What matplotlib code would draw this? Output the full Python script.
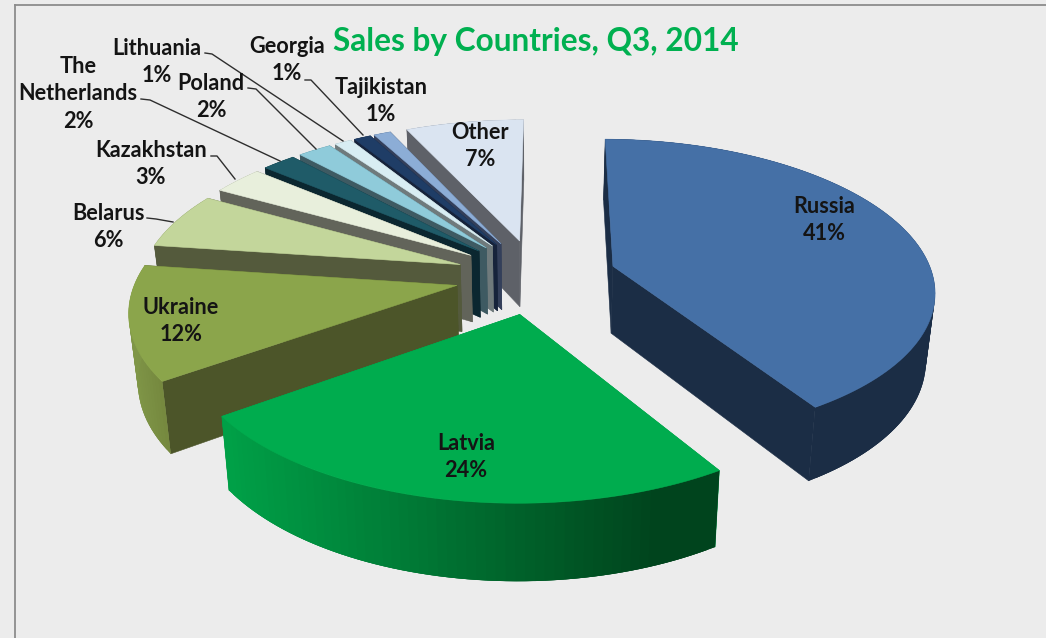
import numpy as np
import matplotlib
matplotlib.use("Agg")
import matplotlib.pyplot as plt
from matplotlib.colors import to_rgb

# ---- data ----
countries = ["Russia", "Latvia", "Ukraine", "Belarus", "Kazakhstan", "The\nNetherlands",
             "Poland", "Lithuania", "Georgia", "Tajikistan", "Other"]
shares = [41, 24, 12, 6, 3, 2, 2, 1, 1, 1, 7]
title = "Sales by Countries, Q3, 2014"

# ---- style ----
top_colors = ["#4570A6", "#00AC4E", "#8BA54B", "#C3D69B", "#E8EFDC", "#1F5B68",
              "#8FCBDA", "#D8EDF3", "#1F3D66", "#8CADD6", "#DAE4F1"]
wall_colors = ["#1B2D45", "#00A047", "#4C5529", "#545A3C", "#62645A", "#0B2730",
               "#3E5A62", "#6F7A7C", "#16233B", "#333F5A", "#5E6168"]
outer_start = ["#1B2D45", "#00A047", "#7F9647", "#545A3C", "#62645A", "#0B2730",
               "#3E5A62", "#6F7A7C", "#16233B", "#333F5A", "#5E6168"]
outer_end = ["#1B2D45", "#00441D", "#76893F", "#545A3C", "#62645A", "#0B2730",
             "#3E5A62", "#6F7A7C", "#16233B", "#333F5A", "#5E6168"]
draw_order = [10, 9, 8, 7, 6, 5, 4, 3, 2, 0, 1]

label_pos = {
    "Russia": (824, 220), "Latvia": (466, 457), "Ukraine": (181, 321), "Belarus": (108, 227),
    "Kazakhstan": (151, 164), "The\nNetherlands": (78, 94), "Poland": (211, 97),
    "Lithuania": (157, 62), "Georgia": (287, 60), "Tajikistan": (381, 101), "Other": (480, 146),
}
leaders = [
    [(205, 53), (212, 54), (343, 141)],
    [(141, 99), (150, 100), (280, 161)],
    [(248, 88), (256, 89), (316, 149)],
    [(305, 80), (311, 80), (363, 135)],
    [(211, 156), (217, 156), (235, 179)],
    [(147, 218), (156, 219), (173, 222)],
]

# perspective model of the tilted pie
X0, Y0 = 533.0, 267.0
K, Q = 0.00046, 0.46
R, EXPLODE = 317.0, 80.0
CU, CV = 3.0, -20.0
H, M = 67.0, 0.977
START = np.deg2rad(0.5)

BG = "#ECECEC"
fig = plt.figure(figsize=(10.46, 6.38), dpi=100, facecolor=BG)
ax = fig.add_axes([0, 0, 1, 1])
ax.set_xlim(0, 1046)
ax.set_ylim(638, 0)
ax.axis("off")


def project(u, v, bottom=False):
    p = 1.0 / (1.0 + K * v)
    x = X0 + u * p
    y = Y0 - Q * v * p
    if bottom:
        x = X0 + u * p * M
        y = y + H * (1 + 0.7 * (p - 1))
    return x, y


def poly(xs, ys, color, z=2, lw=0.4):
    ax.fill(xs, ys, facecolor=color, edgecolor=color, lw=lw, zorder=z)


def mix(a, b, t):
    a, b = np.array(to_rgb(a)), np.array(to_rgb(b))
    return tuple(a + (b - a) * t)


total = sum(shares)
edges = START + np.concatenate([[0], np.cumsum(shares)]) / total * 2 * np.pi

for i in draw_order:
    a0, a1 = edges[i], edges[i + 1]
    mid = (a0 + a1) / 2
    ou = CU + EXPLODE * np.sin(mid)
    ov = CV + EXPLODE * np.cos(mid)
    ang = np.linspace(a0, a1, max(int((a1 - a0) * 40), 4))
    us = ou + R * np.sin(ang)
    vs = ov + R * np.cos(ang)
    xt, yt = project(us, vs)
    xb, yb = project(us, vs, True)
    ax_, ay_ = project(ou, ov)
    bx_, by_ = project(ou, ov, True)
    # radial walls
    poly([ax_, xt[-1], xb[-1], bx_], [ay_, yt[-1], yb[-1], by_], wall_colors[i])
    poly([ax_, xt[0], xb[0], bx_], [ay_, yt[0], yb[0], by_], wall_colors[i])
    # outer wall: strips overlap their neighbour so no seams show
    xmin, xmax = xt.min(), xt.max()
    order = np.argsort((xt[:-1] + xt[1:]) / 2)[::-1]
    for j in order:
        t = min(((xt[j] + xt[j + 1]) / 2 - xmin) / max(xmax - xmin, 1) / 0.85, 1.0)
        k = min(j + 2, len(ang) - 1)
        lo = max(j - 1, 0)
        poly([xt[lo], xt[k], xb[k], xb[lo]], [yt[lo], yt[k], yb[k], yb[lo]],
             mix(outer_start[i], outer_end[i], t), lw=0)
    # top face
    poly(np.r_[ax_, xt], np.r_[ay_, yt], top_colors[i], z=2.5)

# frame lines
ax.plot([15, 15], [5, 638], color="#8C8C8C", lw=1.3, zorder=1)
ax.plot([15, 1046], [5, 5], color="#8C8C8C", lw=1.3, zorder=1)

# leader lines
for pts in leaders:
    ax.plot(*zip(*pts), color="#2E2E2E", lw=1.0, zorder=3)

# labels
for name, val in zip(countries, shares):
    x, y = label_pos[name]
    ax.text(x, y, f"{name}\n{val}%", ha="center", va="center", family="Lato",
            fontweight="bold", fontsize=15.6, color="#141414", linespacing=1.39, zorder=4)

ax.text(536, 41, title, ha="center", va="center", family="Lato", fontweight="bold",
        fontsize=22.8, color="#00B050", zorder=4)

fig.savefig("out.png", dpi=100, facecolor=BG)
